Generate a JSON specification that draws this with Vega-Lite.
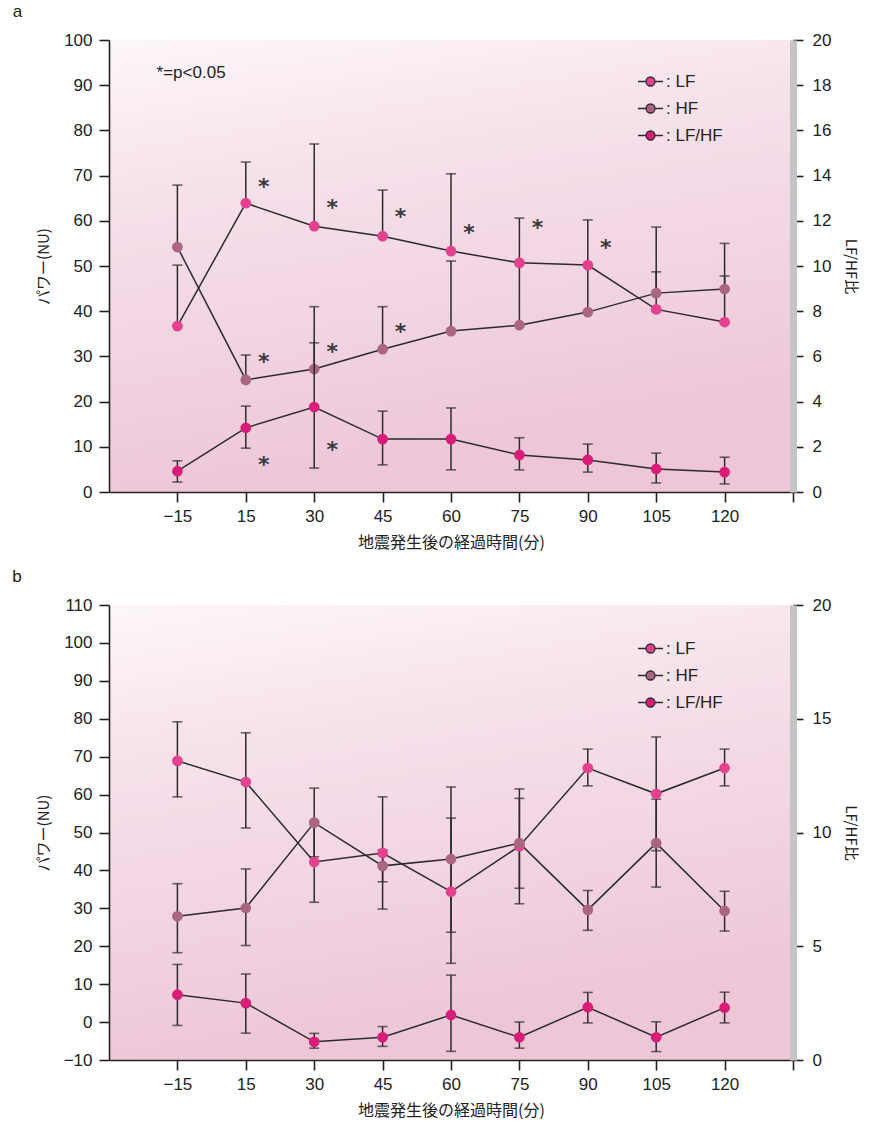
{
  "$schema": "https://vega.github.io/schema/vega-lite/v6.json",
  "padding": {"left": 12, "top": 3, "right": 5, "bottom": 5},
  "background": "white",
  "datasets": {
    "a": [
      {"series": "LF", "idx": 1, "value": 36.7, "lo": 36.7, "hi": 50.2},
      {"series": "LF", "idx": 2, "value": 63.9, "lo": 63.9, "hi": 73.0},
      {"series": "LF", "idx": 3, "value": 58.8, "lo": 58.8, "hi": 77.0},
      {"series": "LF", "idx": 4, "value": 56.6, "lo": 56.6, "hi": 66.8},
      {"series": "LF", "idx": 5, "value": 53.3, "lo": 53.3, "hi": 70.4},
      {"series": "LF", "idx": 6, "value": 50.7, "lo": 50.7, "hi": 60.6},
      {"series": "LF", "idx": 7, "value": 50.2, "lo": 50.2, "hi": 60.2},
      {"series": "LF", "idx": 8, "value": 40.4, "lo": 40.4, "hi": 48.7},
      {"series": "LF", "idx": 9, "value": 37.6, "lo": 37.6, "hi": 47.8},
      {"series": "HF", "idx": 1, "value": 54.2, "lo": 54.2, "hi": 67.9},
      {"series": "HF", "idx": 2, "value": 24.8, "lo": 24.8, "hi": 30.3},
      {"series": "HF", "idx": 3, "value": 27.2, "lo": 27.2, "hi": 41.0},
      {"series": "HF", "idx": 4, "value": 31.6, "lo": 31.6, "hi": 41.0},
      {"series": "HF", "idx": 5, "value": 35.6, "lo": 35.6, "hi": 51.1},
      {"series": "HF", "idx": 6, "value": 36.9, "lo": 36.9, "hi": 50.7},
      {"series": "HF", "idx": 7, "value": 39.8, "lo": 39.8, "hi": 50.2},
      {"series": "HF", "idx": 8, "value": 44.0, "lo": 44.0, "hi": 58.6},
      {"series": "HF", "idx": 9, "value": 44.9, "lo": 44.9, "hi": 55.0},
      {"series": "LF/HF", "idx": 1, "value": 0.92, "lo": 0.44, "hi": 1.38},
      {"series": "LF/HF", "idx": 2, "value": 2.84, "lo": 1.94, "hi": 3.8},
      {"series": "LF/HF", "idx": 3, "value": 3.76, "lo": 1.06, "hi": 6.6},
      {"series": "LF/HF", "idx": 4, "value": 2.34, "lo": 1.2, "hi": 3.58},
      {"series": "LF/HF", "idx": 5, "value": 2.34, "lo": 0.98, "hi": 3.72},
      {"series": "LF/HF", "idx": 6, "value": 1.64, "lo": 0.98, "hi": 2.4},
      {"series": "LF/HF", "idx": 7, "value": 1.42, "lo": 0.88, "hi": 2.12},
      {"series": "LF/HF", "idx": 8, "value": 1.02, "lo": 0.4, "hi": 1.72},
      {"series": "LF/HF", "idx": 9, "value": 0.88, "lo": 0.36, "hi": 1.54}
    ],
    "b": [
      {"series": "LF", "idx": 1, "value": 68.9, "lo": 59.4, "hi": 79.2},
      {"series": "LF", "idx": 2, "value": 63.3, "lo": 51.2, "hi": 76.3},
      {"series": "LF", "idx": 3, "value": 42.2, "lo": 31.6, "hi": 52.8},
      {"series": "LF", "idx": 4, "value": 44.6, "lo": 29.8, "hi": 59.4},
      {"series": "LF", "idx": 5, "value": 34.4, "lo": 15.5, "hi": 53.8},
      {"series": "LF", "idx": 6, "value": 46.4, "lo": 31.2, "hi": 61.5},
      {"series": "LF", "idx": 7, "value": 67.0, "lo": 62.3, "hi": 72.0},
      {"series": "LF", "idx": 8, "value": 60.2, "lo": 45.2, "hi": 75.2},
      {"series": "LF", "idx": 9, "value": 67.0, "lo": 62.3, "hi": 72.0},
      {"series": "HF", "idx": 1, "value": 27.9, "lo": 18.3, "hi": 36.5},
      {"series": "HF", "idx": 2, "value": 30.1, "lo": 20.2, "hi": 40.4},
      {"series": "HF", "idx": 3, "value": 52.6, "lo": 43.6, "hi": 61.7},
      {"series": "HF", "idx": 4, "value": 41.2, "lo": 37.0, "hi": 45.4},
      {"series": "HF", "idx": 5, "value": 43.0, "lo": 23.7, "hi": 62.0},
      {"series": "HF", "idx": 6, "value": 47.2, "lo": 35.3, "hi": 59.0},
      {"series": "HF", "idx": 7, "value": 29.6, "lo": 24.2, "hi": 34.7},
      {"series": "HF", "idx": 8, "value": 47.2, "lo": 35.6, "hi": 58.8},
      {"series": "HF", "idx": 9, "value": 29.3, "lo": 24.0, "hi": 34.5},
      {"series": "LF/HF", "idx": 1, "value": 2.87, "lo": 1.52, "hi": 4.2},
      {"series": "LF/HF", "idx": 2, "value": 2.5, "lo": 1.18, "hi": 3.78},
      {"series": "LF/HF", "idx": 3, "value": 0.8, "lo": 0.52, "hi": 1.17},
      {"series": "LF/HF", "idx": 4, "value": 1.0, "lo": 0.6, "hi": 1.47},
      {"series": "LF/HF", "idx": 5, "value": 1.98, "lo": 0.38, "hi": 3.73},
      {"series": "LF/HF", "idx": 6, "value": 1.0, "lo": 0.52, "hi": 1.67},
      {"series": "LF/HF", "idx": 7, "value": 2.32, "lo": 1.63, "hi": 2.97},
      {"series": "LF/HF", "idx": 8, "value": 1.0, "lo": 0.37, "hi": 1.68},
      {"series": "LF/HF", "idx": 9, "value": 2.3, "lo": 1.63, "hi": 2.98}
    ],
    "starsLeft": [
      {"idx": 2, "value": 68.6}, {"idx": 3, "value": 63.9}, {"idx": 4, "value": 61.9},
      {"idx": 5, "value": 58.4}, {"idx": 6, "value": 59.5}, {"idx": 7, "value": 55.1},
      {"idx": 2, "value": 29.9}, {"idx": 3, "value": 32.0}, {"idx": 4, "value": 36.5}
    ],
    "starsRight": [
      {"idx": 2, "value": 1.4}, {"idx": 3, "value": 2.08}
    ],
    "note": [
      {"label": "*=p<0.05", "idx": 1.2, "value": 92.7}
    ]
  },
  "config": {
    "view": {"stroke": null, "fill": {"gradient": "linear", "x1": 0, "y1": 0, "x2": 0.25, "y2": 1, "stops": [{"offset": 0, "color": "#fdf7fa"}, {"offset": 0.3, "color": "#f7e3ec"}, {"offset": 1, "color": "#edc6d8"}]}},
    "font": "Liberation Sans",
    "axis": {
      "grid": false, "domainColor": "#222", "domainWidth": 1.6, "tickColor": "#222", "tickWidth": 1.6, "tickSize": 10,
      "labelColor": "#222", "labelFont": "Liberation Sans", "labelFontSize": 17, "labelOverlap": false,
      "titleFont": "Noto Sans CJK JP", "titleFontSize": 15, "titleFontWeight": "normal", "titleColor": "#222"
    },
    "legend": {"labelFont": "Liberation Sans", "labelFontSize": 17, "labelColor": "#222"},
    "title": {"font": "Liberation Sans", "fontSize": 17, "fontWeight": "normal", "color": "#222", "anchor": "start", "frame": "bounds"}
  },
  "vconcat": [
    {
      "title": {"text": "a", "dx": -24, "offset": 10},
      "width": 684, "height": 452,
      "data": {"name": "a"},
      "resolve": {"scale": {"y": "independent"}},
      "layer": [
        {
          "transform": [{"filter": "datum.series !== 'LF/HF'"}],
          "encoding": {
            "x": {"field": "idx", "type": "quantitative", "scale": {"domain": [0, 10], "nice": false, "zero": false},
              "axis": {"values": [1,2,3,4,5,6,7,8,9,10], "tickCount": 20, "labelExpr": "datum.value == 1 ? '−15' : datum.value >= 10 ? '' : '' + (datum.value - 1) * 15", "title": "地震発生後の経過時間(分)", "titlePadding": 10, "labelPadding": 6, "titleFontSize": 16}}
          },
          "layer": [
            {"mark": {"type": "line", "color": "#2b2b2b", "strokeWidth": 1.5},
             "encoding": {"detail": {"field": "series"}, "y": {"field": "value", "type": "quantitative", "scale": {"domain": [0, 100], "nice": false},
               "axis": {"title": "パワー(NU)", "values": [0,10,20,30,40,50,60,70,80,90,100], "tickCount": 20, "labelPadding": 7, "titlePadding": 12, "labelOverlap": false}}}},
            {"mark": {"type": "rule", "color": "#2b2b2b", "strokeWidth": 1.5},
             "encoding": {"y": {"field": "lo", "type": "quantitative", "title": "パワー(NU)"}, "y2": {"field": "hi"}}},
            {"mark": {"type": "tick", "orient": "horizontal", "color": "#2b2b2b", "size": 10, "thickness": 1.6},
             "encoding": {"y": {"field": "hi", "type": "quantitative", "title": "パワー(NU)"}}},
            {"mark": {"type": "tick", "orient": "horizontal", "color": "#2b2b2b", "size": 10, "thickness": 1.6},
             "encoding": {"y": {"field": "lo", "type": "quantitative", "title": "パワー(NU)"}}},
            {"mark": {"type": "point", "filled": true, "opacity": 1, "size": 115},
             "encoding": {"y": {"field": "value", "type": "quantitative", "title": "パワー(NU)"},
               "color": {"field": "series", "type": "nominal", "scale": {"domain": ["LF", "HF", "LF/HF"], "range": ["#e2428f", "#a96582", "#d81c78"]},
                 "legend": {"title": null, "orient": "none", "legendX": 528, "legendY": 28, "symbolType": "M-1,0H-0.36M0.36,0H1M-0.36,0A0.36,0.36 0 1,1 0.36,0A0.36,0.36 0 1,1 -0.36,0Z", "symbolSize": 625, "symbolStrokeColor": "#2b2b2b", "symbolStrokeWidth": 1.3, "symbolOpacity": 1, "rowPadding": 5, "labelOffset": 2, "labelExpr": "': ' + datum.label"}}}},
            {"data": {"name": "starsLeft"}, "mark": {"type": "text", "text": "*", "font": "DejaVu Sans", "fontSize": 22, "fontWeight": "bold", "color": "#3a3a3a", "dx": 18, "dy": 5, "baseline": "middle"},
             "encoding": {"x": {"field": "idx", "type": "quantitative"}, "y": {"field": "value", "type": "quantitative", "title": "パワー(NU)"}}},
            {"data": {"name": "note"}, "mark": {"type": "text", "font": "Liberation Sans", "fontSize": 17, "color": "#222", "align": "center", "baseline": "middle"},
             "encoding": {"text": {"field": "label"}, "x": {"field": "idx", "type": "quantitative"}, "y": {"field": "value", "type": "quantitative", "title": "パワー(NU)"}}}
          ]
        },
        {
          "transform": [{"filter": "datum.series === 'LF/HF'"}],
          "encoding": {"x": {"field": "idx", "type": "quantitative"}},
          "layer": [
            {"mark": {"type": "line", "color": "#2b2b2b", "strokeWidth": 1.5},
             "encoding": {"y": {"field": "value", "type": "quantitative", "scale": {"domain": [0, 20], "nice": false},
               "axis": {"orient": "right", "title": "LF/HF比", "values": [0,2,4,6,8,10,12,14,16,18,20], "tickCount": 20, "domainColor": "#c4c4c4", "domainWidth": 7, "labelPadding": 9, "titlePadding": 12}}}},
            {"mark": {"type": "rule", "color": "#2b2b2b", "strokeWidth": 1.5},
             "encoding": {"y": {"field": "lo", "type": "quantitative", "title": "LF/HF比"}, "y2": {"field": "hi"}}},
            {"mark": {"type": "tick", "orient": "horizontal", "color": "#2b2b2b", "size": 10, "thickness": 1.6},
             "encoding": {"y": {"field": "hi", "type": "quantitative", "title": "LF/HF比"}}},
            {"mark": {"type": "tick", "orient": "horizontal", "color": "#2b2b2b", "size": 10, "thickness": 1.6},
             "encoding": {"y": {"field": "lo", "type": "quantitative", "title": "LF/HF比"}}},
            {"mark": {"type": "point", "filled": true, "opacity": 1, "size": 115},
             "encoding": {"y": {"field": "value", "type": "quantitative", "title": "LF/HF比"},
               "color": {"field": "series", "type": "nominal"}}},
            {"data": {"name": "starsRight"}, "mark": {"type": "text", "text": "*", "font": "DejaVu Sans", "fontSize": 22, "fontWeight": "bold", "color": "#3a3a3a", "dx": 18, "dy": 5, "baseline": "middle"},
             "encoding": {"x": {"field": "idx", "type": "quantitative"}, "y": {"field": "value", "type": "quantitative", "title": "LF/HF比"}}}
          ]
        }
      ]
    },
    {
      "title": {"text": "b", "dx": -24, "offset": 10},
      "width": 684, "height": 455,
      "data": {"name": "b"},
      "resolve": {"scale": {"y": "independent"}},
      "layer": [
        {
          "transform": [{"filter": "datum.series !== 'LF/HF'"}],
          "encoding": {
            "x": {"field": "idx", "type": "quantitative", "scale": {"domain": [0, 10], "nice": false, "zero": false},
              "axis": {"values": [1,2,3,4,5,6,7,8,9,10], "tickCount": 20, "labelExpr": "datum.value == 1 ? '−15' : datum.value >= 10 ? '' : '' + (datum.value - 1) * 15", "title": "地震発生後の経過時間(分)", "titlePadding": 10, "labelPadding": 6, "titleFontSize": 16}}
          },
          "layer": [
            {"mark": {"type": "line", "color": "#2b2b2b", "strokeWidth": 1.5},
             "encoding": {"detail": {"field": "series"}, "y": {"field": "value", "type": "quantitative", "scale": {"domain": [-10, 110], "nice": false, "zero": false},
               "axis": {"title": "パワー(NU)", "values": [-10,0,10,20,30,40,50,60,70,80,90,100,110], "tickCount": 20, "labelPadding": 7, "titlePadding": 12, "labelOverlap": false, "labelSeparation": 0}}}},
            {"mark": {"type": "rule", "color": "#2b2b2b", "strokeWidth": 1.5},
             "encoding": {"y": {"field": "lo", "type": "quantitative", "title": "パワー(NU)"}, "y2": {"field": "hi"}}},
            {"mark": {"type": "tick", "orient": "horizontal", "color": "#2b2b2b", "size": 10, "thickness": 1.6},
             "encoding": {"y": {"field": "hi", "type": "quantitative", "title": "パワー(NU)"}}},
            {"mark": {"type": "tick", "orient": "horizontal", "color": "#2b2b2b", "size": 10, "thickness": 1.6},
             "encoding": {"y": {"field": "lo", "type": "quantitative", "title": "パワー(NU)"}}},
            {"mark": {"type": "point", "filled": true, "opacity": 1, "size": 115},
             "encoding": {"y": {"field": "value", "type": "quantitative", "title": "パワー(NU)"},
               "color": {"field": "series", "type": "nominal", "scale": {"domain": ["LF", "HF", "LF/HF"], "range": ["#e2428f", "#a96582", "#d81c78"]},
                 "legend": {"title": null, "orient": "none", "legendX": 528, "legendY": 30, "symbolType": "M-1,0H-0.36M0.36,0H1M-0.36,0A0.36,0.36 0 1,1 0.36,0A0.36,0.36 0 1,1 -0.36,0Z", "symbolSize": 625, "symbolStrokeColor": "#2b2b2b", "symbolStrokeWidth": 1.3, "symbolOpacity": 1, "rowPadding": 5, "labelOffset": 2, "labelExpr": "': ' + datum.label"}}}}
          ]
        },
        {
          "transform": [{"filter": "datum.series === 'LF/HF'"}],
          "encoding": {"x": {"field": "idx", "type": "quantitative"}},
          "layer": [
            {"mark": {"type": "line", "color": "#2b2b2b", "strokeWidth": 1.5},
             "encoding": {"y": {"field": "value", "type": "quantitative", "scale": {"domain": [0, 20], "nice": false},
               "axis": {"orient": "right", "title": "LF/HF比", "values": [0,5,10,15,20], "tickCount": 20, "domainColor": "#c4c4c4", "domainWidth": 7, "labelPadding": 9, "titlePadding": 12}}}},
            {"mark": {"type": "rule", "color": "#2b2b2b", "strokeWidth": 1.5},
             "encoding": {"y": {"field": "lo", "type": "quantitative", "title": "LF/HF比"}, "y2": {"field": "hi"}}},
            {"mark": {"type": "tick", "orient": "horizontal", "color": "#2b2b2b", "size": 10, "thickness": 1.6},
             "encoding": {"y": {"field": "hi", "type": "quantitative", "title": "LF/HF比"}}},
            {"mark": {"type": "tick", "orient": "horizontal", "color": "#2b2b2b", "size": 10, "thickness": 1.6},
             "encoding": {"y": {"field": "lo", "type": "quantitative", "title": "LF/HF比"}}},
            {"mark": {"type": "point", "filled": true, "opacity": 1, "size": 115},
             "encoding": {"y": {"field": "value", "type": "quantitative", "title": "LF/HF比"},
               "color": {"field": "series", "type": "nominal"}}}
          ]
        }
      ]
    }
  ],
  "resolve": {"scale": {"color": "independent"}, "legend": {"color": "independent"}},
  "spacing": 18
}
